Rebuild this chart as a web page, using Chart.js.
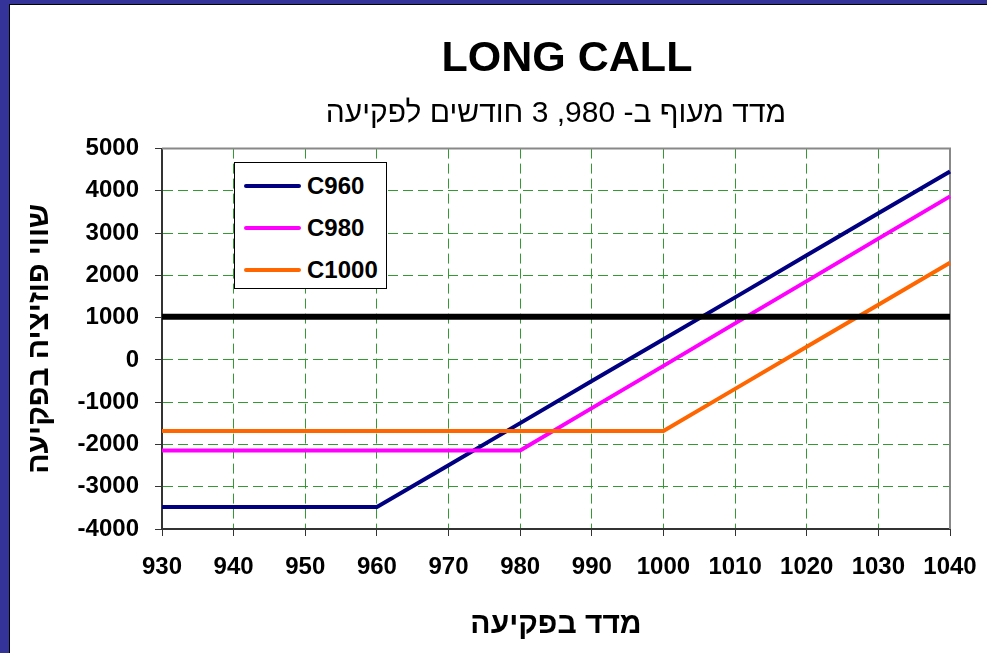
<!DOCTYPE html>
<html>
<head>
<meta charset="utf-8">
<script src="https://cdn.jsdelivr.net/npm/chart.js"></script>
<style>
  body { margin: 0; width: 987px; height: 653px; overflow: hidden; position: relative; background: #333399; font-family: 'Liberation Sans', Arial, 'DejaVu Sans', sans-serif; }
  #sheet { position: absolute; left: 9px; top: 4px; right: 0; bottom: 0; background: #fff; border-left: 1px solid #000; border-top: 1px solid #000; }
  canvas { position: absolute; left: 0; top: 0; }
  #legend { position: absolute; left: 234px; top: 162px; width: 151px; height: 125px; border: 1px solid #000; background: #fff; }
  .row { position: absolute; left: 0; height: 30px; display: flex; align-items: center; }
  .swatch { margin-left: 9px; width: 57px; height: 4px; border-radius: 2px; }
  .name { margin-left: 6px; font-weight: bold; font-size: 24px; color: #000; }
</style>
</head>
<body>
<div id="sheet"></div>
<canvas id="payoff" width="987" height="653"></canvas>
<div id="legend"></div>
<script>
  // index level at expiry
  const indexLevels = ["930", "940", "950", "960", "970", "980", "990", "1000", "1010", "1020", "1030", "1040"];
  // position value at expiry for each call
  const c960 = [-3480, -3480, -3480, -3480, -2490, -1495, -500, 490, 1480, 2475, 3470, 4460];
  const c980 = [-2140, -2140, -2140, -2140, -2140, -2140, -1140, -140, 865, 1865, 2870, 3870];
  const c1000 = [-1680, -1680, -1680, -1680, -1680, -1680, -1680, -1680, -685, 310, 1305, 2300];
  const refLine = [1020, 1020, 1020, 1020, 1020, 1020, 1020, 1020, 1020, 1020, 1020, 1020];
  const yTicks = [-4000, -3000, -2000, -1000, 0, 1000, 2000, 3000, 4000, 5000];

  const fontFam = "'Liberation Sans', Arial, 'DejaVu Sans', sans-serif";

  const series = [
    { label: "C960", data: c960, color: "#000080" },
    { label: "C980", data: c980, color: "#FF00FF" },
    { label: "C1000", data: c1000, color: "#FF6600" },
  ];

  // grey frame on top and right of plot
  const plotFrame = {
    id: "plotFrame",
    afterLayout(chart) {
      // titles sit a little right of the plot centre
      if (chart.titleBlock) { chart.titleBlock.left += 11; chart.titleBlock.right += 11; }
      if (chart.$subtitle) { chart.$subtitle.left += 6; chart.$subtitle.right += 6; }
    },
    beforeDatasetsDraw(chart) {
      const { ctx, chartArea: a } = chart;
      ctx.save();
      ctx.strokeStyle = "#888888";
      ctx.lineWidth = 2;
      ctx.beginPath();
      ctx.moveTo(a.left, a.top);
      ctx.lineTo(a.right, a.top);
      ctx.lineTo(a.right, a.bottom);
      ctx.stroke();
      ctx.restore();
    },
  };

  const datasets = [
    { label: "ref", data: refLine, borderColor: "#000", borderWidth: 6, pointRadius: 0, tension: 0 },
  ];
  series.slice().reverse().forEach((s) => {
    datasets.push({ label: s.label, data: s.data, borderColor: s.color, borderWidth: 4, pointRadius: 0, tension: 0 });
  });

  new Chart(document.getElementById("payoff"), {
    type: "line",
    data: { labels: indexLevels, datasets: datasets },
    options: {
      responsive: false,
      animation: false,
      devicePixelRatio: 1,
      layout: { padding: { left: 20, right: 37, top: 5, bottom: 10 } },
      plugins: {
        legend: { display: false },
        tooltip: { enabled: false },
        title: {
          display: true,
          fullSize: false,
          text: "LONG CALL",
          color: "#000",
          font: { family: fontFam, size: 43, weight: "bold", lineHeight: 1.2 },
          padding: { top: 28, bottom: 0 },
        },
        subtitle: {
          display: true,
          fullSize: false,
          text: "\u202Bמדד מעוף ב- 980, 3 חודשים לפקיעה\u202C",
          color: "#000",
          font: { family: fontFam, size: 30, weight: "normal", lineHeight: 1.2 },
          padding: { top: 11, bottom: 17 },
        },
      },
      scales: {
        x: {
          type: "category",
          offset: false,
          afterFit(scale) {
            scale.height = 114;
            scale.paddingLeft = 0;
            scale.paddingRight = 0;
          },
          grid: { color: "#339933", lineWidth: 1, tickLength: 7, tickColor: "#333", tickWidth: 1 },
          border: { display: true, color: "#333", width: 2, dash: [10, 5] },
          ticks: { color: "#000", padding: 17, maxRotation: 0, autoSkip: false, font: { family: fontFam, size: 24, weight: "bold" } },
          title: {
            display: true,
            text: "מדד בפקיעה",
            color: "#000",
            padding: { top: 3, bottom: 0 },
            font: { family: fontFam, size: 30, weight: "bold", lineHeight: 1.2 },
          },
        },
        y: {
          min: yTicks[0],
          max: yTicks[yTicks.length - 1],
          afterFit(scale) { scale.width = 142; },
          afterBuildTicks(scale) { scale.ticks = yTicks.map((v) => ({ value: v })); },
          grid: { color: "#339933", lineWidth: 1, tickLength: 7, tickColor: "#333", tickWidth: 1 },
          border: { display: true, color: "#333", width: 2, dash: [10, 5] },
          ticks: { color: "#000", padding: 16, callback: (v) => String(v), font: { family: fontFam, size: 24, weight: "bold" } },
          title: {
            display: true,
            text: "שווי פוזיציה בפקיעה",
            color: "#000",
            padding: { top: 2, bottom: 0 },
            font: { family: fontFam, size: 30, weight: "bold", lineHeight: 1.2 },
          },
        },
      },
    },
    plugins: [plotFrame],
  });

  // legend box inside the plot
  const legend = document.getElementById("legend");
  const rowCentres = [23, 65, 107];
  series.forEach((s, i) => {
    const row = document.createElement("div");
    row.className = "row";
    row.style.top = rowCentres[i] - 15 + "px";
    row.innerHTML = '<div class="swatch" style="background:' + s.color + '"></div><div class="name">' + s.label + "</div>";
    legend.appendChild(row);
  });
</script>
</body>
</html>
